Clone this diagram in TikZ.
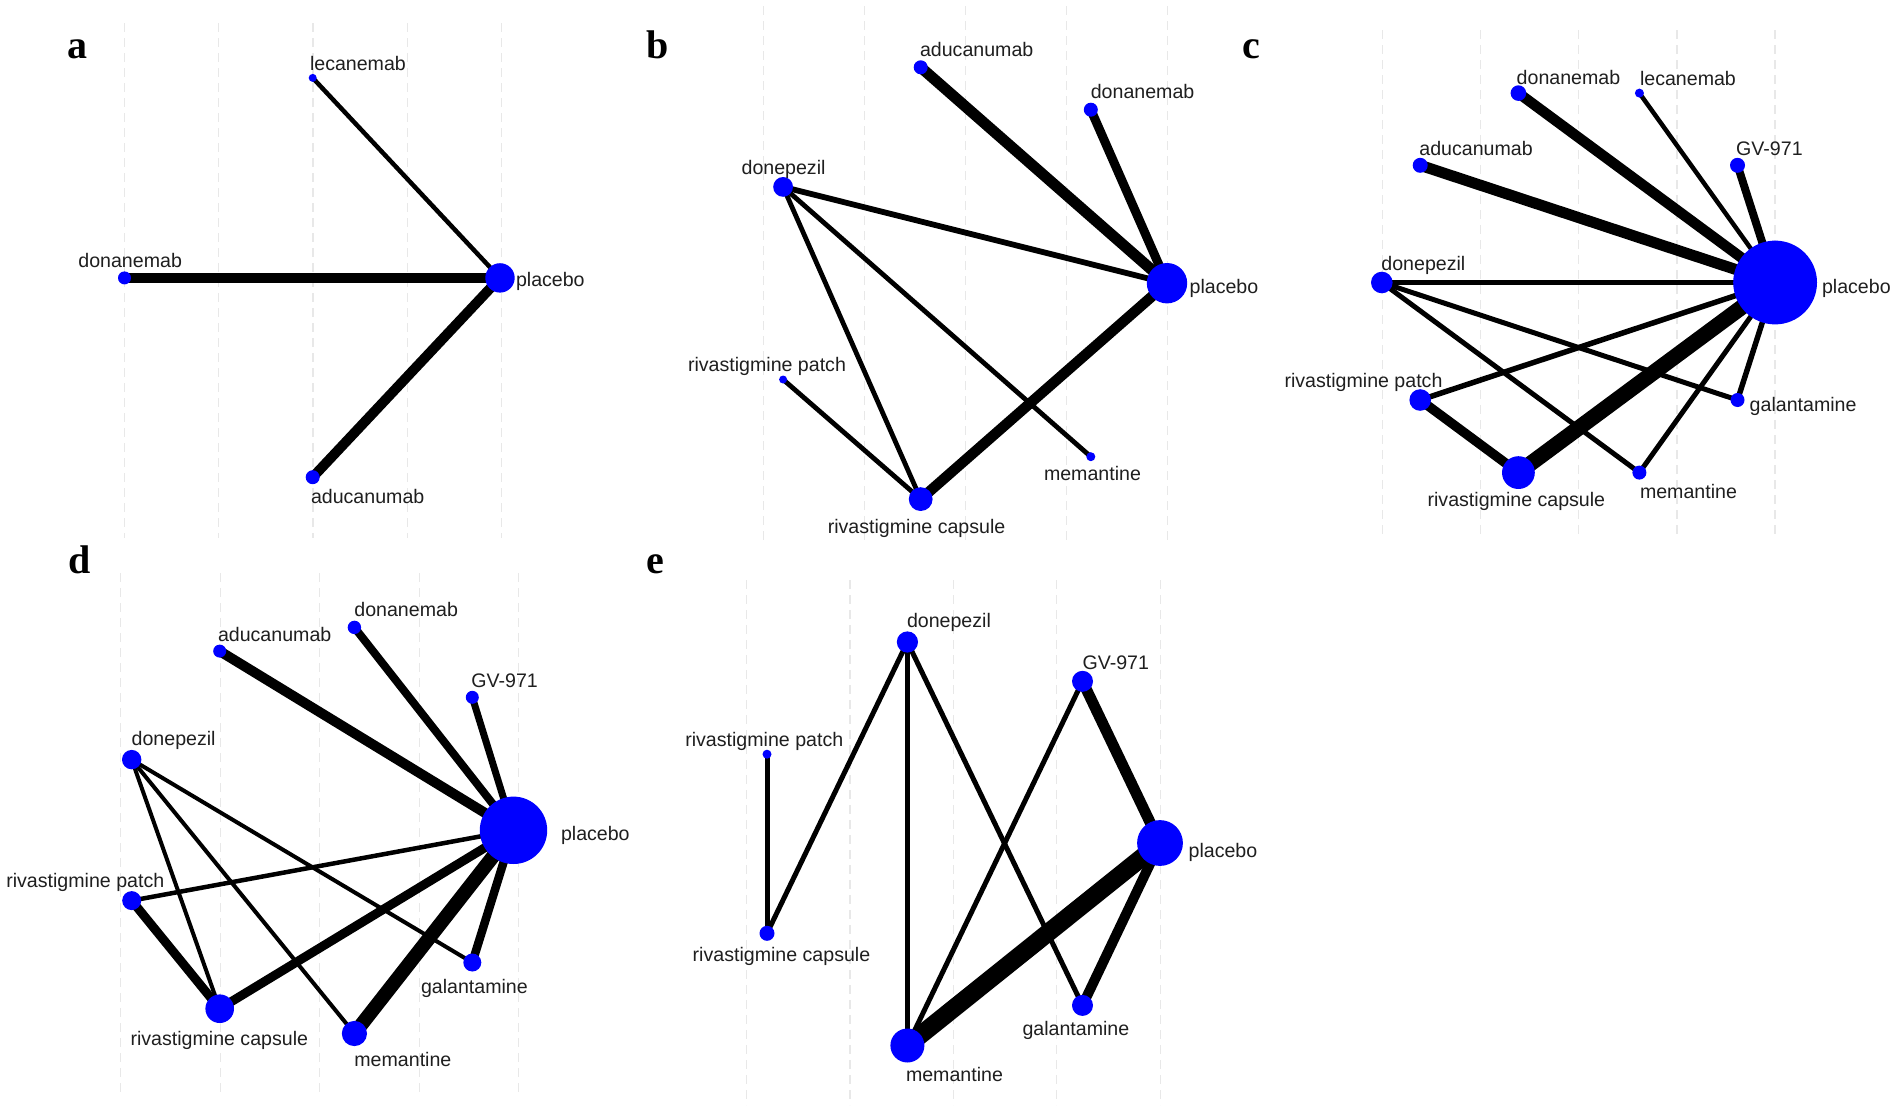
\documentclass[tikz,border=0pt]{standalone}
\usepackage{fontspec}
\setmainfont{Liberation Sans}
\newfontfamily\letterfont{Liberation Serif}
\definecolor{netblue}{RGB}{0,0,255}
\pgfdeclarelayer{back}
\pgfsetlayers{back,main}
\begin{document}
\begin{tikzpicture}
  [x=1pt,y=-1pt,
    every node/.style={inner sep=0pt,outer sep=0pt},
    drug/.style={circle,fill=netblue,minimum size=#1},
    lbl/.style={font=\fontsize{19.6}{20}\selectfont,text=black!88,anchor=base west},
    panel/.style={font=\letterfont\bfseries\fontsize{40}{40}\selectfont,anchor=base},
    gridline/.style={draw=black!9,line width=1.2pt,dash pattern=on 9pt off 6pt},
    link/.style={draw=black,line width=#1},
  ]
  \useasboundingbox (0,0) rectangle (1901,1111);

  % panel letters
  \node[panel] (la) at (77.6,58) {a};
  \node[panel] (lb) at (657.8,58) {b};
  \node[panel] (lc) at (1251,58) {c};
  \node[panel] (ld) at (80,573) {d};
  \node[panel] (le) at (655,573) {e};

  % a
  \node[drug=8pt] (A-lec) at (312.7,77.9) {};
  \node[drug=13pt] (A-don) at (124.5,277.9) {};
  \node[drug=29.4pt] (A-pl) at (500,277.9) {};
  \node[drug=14pt] (A-adu) at (312.7,477.2) {};
  \node[lbl] at (310,70.7) {lecanemab};
  \node[lbl] at (78.4,267) {donanemab};
  \node[lbl] at (516,286.7) {placebo};
  \node[lbl] at (311,503.7) {aducanumab};

  % b
  \node[drug=14pt] (B-adu) at (920.7,67.3) {};
  \node[drug=14pt] (B-don) at (1090.8,109.7) {};
  \node[drug=19.8pt] (B-dpz) at (783.1,186.9) {};
  \node[drug=40.4pt] (B-pl) at (1167,283.2) {};
  \node[drug=8pt] (B-rpa) at (783.1,379.5) {};
  \node[drug=9pt] (B-mem) at (1090.8,456.7) {};
  \node[drug=23.8pt] (B-rca) at (920.7,499.1) {};
  \node[lbl] at (920,56.6) {aducanumab};
  \node[lbl] at (1090.8,98.3) {donanemab};
  \node[lbl] at (741.6,174) {donepezil};
  \node[lbl] at (1189.6,293.7) {placebo};
  \node[lbl] at (688,371.6) {rivastigmine patch};
  \node[lbl] at (1044,480.6) {memantine};
  \node[lbl] at (827.8,533.7) {rivastigmine capsule};

  % c
  \node[drug=15.6pt] (C-don) at (1518.4,93.1) {};
  \node[drug=9pt] (C-lec) at (1639.4,93.1) {};
  \node[drug=15pt] (C-adu) at (1420.2,165.3) {};
  \node[drug=15pt] (C-gv) at (1737.5,165.3) {};
  \node[drug=21.6pt] (C-dpz) at (1381.8,282.5) {};
  \node[drug=83.8pt] (C-pl) at (1775.1,282.5) {};
  \node[drug=21.6pt] (C-rpa) at (1420.2,400) {};
  \node[drug=14pt] (C-gal) at (1737.5,400) {};
  \node[drug=32.8pt] (C-rca) at (1518.4,472.6) {};
  \node[drug=14pt] (C-mem) at (1639.4,472.6) {};
  \node[lbl] at (1516.7,84.2) {donanemab};
  \node[lbl] at (1640,85.6) {lecanemab};
  \node[lbl] at (1419.4,155.7) {aducanumab};
  \node[lbl] at (1736.2,155.7) {GV-971};
  \node[lbl] at (1381.4,270.7) {donepezil};
  \node[lbl] at (1822,293) {placebo};
  \node[lbl] at (1284.5,387.6) {rivastigmine patch};
  \node[lbl] at (1749.7,411.6) {galantamine};
  \node[lbl] at (1427.6,506) {rivastigmine capsule};
  \node[lbl] at (1640,498.4) {memantine};

  % d
  \node[drug=13.4pt] (D-don) at (354.4,627.4) {};
  \node[drug=13pt] (D-adu) at (219.7,651.1) {};
  \node[drug=13pt] (D-gv) at (472.3,697.3) {};
  \node[drug=19.4pt] (D-dpz) at (131.7,759.6) {};
  \node[drug=67.4pt] (D-pl) at (513.5,830.3) {};
  \node[drug=19pt] (D-rpa) at (131.7,900.6) {};
  \node[drug=18pt] (D-gal) at (472.3,962.5) {};
  \node[drug=28.6pt] (D-rca) at (219.7,1008.7) {};
  \node[drug=25.2pt] (D-mem) at (354.4,1033.5) {};
  \node[lbl] at (354.4,616.9) {donanemab};
  \node[lbl] at (218,641) {aducanumab};
  \node[lbl] at (471.4,687.2) {GV-971};
  \node[lbl] at (131.7,745.5) {donepezil};
  \node[lbl] at (561,840.2) {placebo};
  \node[lbl] at (6.3,887.5) {rivastigmine patch};
  \node[lbl] at (421,993) {galantamine};
  \node[lbl] at (130.5,1045.2) {rivastigmine capsule};
  \node[lbl] at (354.4,1066) {memantine};

  % e
  \node[drug=21.2pt] (E-dpz) at (907.4,642) {};
  \node[drug=21pt] (E-gv) at (1082.5,681.3) {};
  \node[drug=9pt] (E-rpa) at (767,754.2) {};
  \node[drug=45.8pt] (E-pl) at (1160,843) {};
  \node[drug=15pt] (E-rca) at (767,933.3) {};
  \node[drug=21pt] (E-gal) at (1082.5,1005.4) {};
  \node[drug=34pt] (E-mem) at (907.4,1045.5) {};
  \node[lbl] at (907,627.9) {donepezil};
  \node[lbl] at (1082.5,669) {GV-971};
  \node[lbl] at (685.3,746.6) {rivastigmine patch};
  \node[lbl] at (1188.6,857.3) {placebo};
  \node[lbl] at (692.7,961.5) {rivastigmine capsule};
  \node[lbl] at (1022.5,1035) {galantamine};
  \node[lbl] at (906,1081.6) {memantine};

  \begin{pgfonlayer}{back}
    \fill[white] (0,0) rectangle (1901,1111);
    % dashed grid of each panel
    \foreach \k in {0,...,4} {
      \draw[gridline] (124.5+94.2*\k,23) -- (124.5+94.2*\k,538);
      \draw[gridline] (763.4+101*\k,6) -- (763.4+101*\k,545);
      \draw[gridline] (1382.6+98.1*\k,30) -- (1382.6+98.1*\k,538);
      \draw[gridline] (120.8+99.5*\k,573) -- (120.8+99.5*\k,1094);
      \draw[gridline] (746.5+103.4*\k,580) -- (746.5+103.4*\k,1105);
    }
    % a
    \draw[link=4.5pt] (A-pl.center) -- (A-lec.center);
    \draw[link=10.5pt] (A-pl.center) -- (A-don.center);
    \draw[link=10pt] (A-pl.center) -- (A-adu.center);
    % b
    \draw[link=11pt] (B-pl.center) -- (B-adu.center);
    \draw[link=9pt] (B-pl.center) -- (B-don.center);
    \draw[link=5.8pt] (B-pl.center) -- (B-dpz.center);
    \draw[link=10.5pt] (B-pl.center) -- (B-rca.center);
    \draw[link=4.8pt] (B-dpz.center) -- (B-rca.center);
    \draw[link=4.8pt] (B-dpz.center) -- (B-mem.center);
    \draw[link=4.8pt] (B-rpa.center) -- (B-rca.center);
    % c
    \draw[link=10.5pt] (C-pl.center) -- (C-don.center);
    \draw[link=4.5pt] (C-pl.center) -- (C-lec.center);
    \draw[link=11pt] (C-pl.center) -- (C-adu.center);
    \draw[link=8pt] (C-pl.center) -- (C-gv.center);
    \draw[link=5.5pt] (C-pl.center) -- (C-dpz.center);
    \draw[link=5.5pt] (C-pl.center) -- (C-rpa.center);
    \draw[link=15.5pt] (C-pl.center) -- (C-rca.center);
    \draw[link=5pt] (C-pl.center) -- (C-mem.center);
    \draw[link=5.5pt] (C-pl.center) -- (C-gal.center);
    \draw[link=5pt] (C-dpz.center) -- (C-gal.center);
    \draw[link=5pt] (C-dpz.center) -- (C-mem.center);
    \draw[link=9.5pt] (C-rpa.center) -- (C-rca.center);
    % d
    \draw[link=8pt] (D-pl.center) -- (D-don.center);
    \draw[link=10pt] (D-pl.center) -- (D-adu.center);
    \draw[link=7pt] (D-pl.center) -- (D-gv.center);
    \draw[link=4.5pt] (D-pl.center) -- (D-rpa.center);
    \draw[link=9pt] (D-pl.center) -- (D-rca.center);
    \draw[link=14pt] (D-pl.center) -- (D-mem.center);
    \draw[link=8.5pt] (D-pl.center) -- (D-gal.center);
    \draw[link=4pt] (D-dpz.center) -- (D-rca.center);
    \draw[link=4pt] (D-dpz.center) -- (D-mem.center);
    \draw[link=4pt] (D-dpz.center) -- (D-gal.center);
    \draw[link=9pt] (D-rpa.center) -- (D-rca.center);
    % e
    \draw[link=5pt] (E-rpa.center) -- (E-rca.center);
    \draw[link=5pt] (E-rca.center) -- (E-dpz.center);
    \draw[link=5pt] (E-dpz.center) -- (E-mem.center);
    \draw[link=5pt] (E-dpz.center) -- (E-gal.center);
    \draw[link=5pt] (E-gv.center) -- (E-mem.center);
    \draw[link=11pt] (E-gv.center) -- (E-pl.center);
    \draw[link=18pt] (E-mem.center) -- (E-pl.center);
    \draw[link=10pt] (E-gal.center) -- (E-pl.center);
  \end{pgfonlayer}
\end{tikzpicture}
\end{document}
